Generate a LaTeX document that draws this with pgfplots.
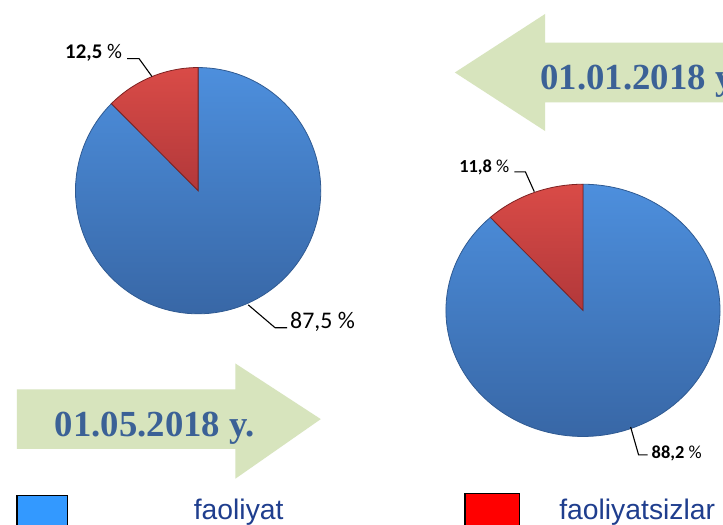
\documentclass[border=0pt]{standalone}
\usepackage{pgfplots}
\usepackage{pgfplotstable}
\pgfplotsset{compat=1.18}
\usepackage{fontspec}
\setmainfont{Liberation Serif}
\newfontfamily\arial{Liberation Sans}
\newfontfamily\calib{Carlito}
\definecolor{arrowgreen}{HTML}{D7E4BD}
\definecolor{datetext}{HTML}{3B6196}
\definecolor{legtext}{HTML}{1F3E8E}
\definecolor{bluetop}{HTML}{4D8FDD}
\definecolor{bluebot}{HTML}{3867A6}
\definecolor{blueedge}{HTML}{2F5A92}
\definecolor{redtop}{HTML}{D94B47}
\definecolor{redbot}{HTML}{B2383A}
\definecolor{rededge}{HTML}{7E2222}
\definecolor{legblue}{HTML}{3399FF}
\definecolor{legred}{HTML}{FF0000}

% shares in percent: row 0 = 01.05.2018 (left pie), row 1 = 01.01.2018 (right pie)
\pgfplotstableread{
group faoliyat faoliyatsizlar
1 87.5 12.5
2 88.2 11.8
}\piedata

\begin{document}
\pgfplotstablegetelem{0}{faoliyatsizlar}\of\piedata \let\redA\pgfplotsretval
\pgfplotstablegetelem{0}{faoliyat}\of\piedata \let\blueA\pgfplotsretval
\pgfplotstablegetelem{1}{faoliyatsizlar}\of\piedata \let\redB\pgfplotsretval
\pgfplotstablegetelem{1}{faoliyat}\of\piedata \let\blueB\pgfplotsretval
\pgfmathsetmacro{\endA}{90+3.6*\redA}
\pgfmathsetmacro{\endB}{90+3.6*\redB}
\begin{tikzpicture}
\useasboundingbox (0,0) rectangle (723pt,528pt);
\clip (0,0) rectangle (723pt,528pt);
\fill[white] (0,0) rectangle (723pt,528pt);
\begin{axis}[
  at={(0,0)}, anchor=south west,
  scale only axis, width=723pt, height=528pt,
  xmin=0, xmax=723, ymin=0, ymax=528, y dir=reverse,
  hide axis, clip=false,
]
% arrows
\fill[arrowgreen] (axis cs:453,73) -- (axis cs:544,14) -- (axis cs:544,43) -- (axis cs:730,43)
   -- (axis cs:730,103) -- (axis cs:544,103) -- (axis cs:544,132) -- cycle;
\fill[arrowgreen] (axis cs:318,422) -- (axis cs:232,366) -- (axis cs:232,392) -- (axis cs:12,392)
   -- (axis cs:12,452) -- (axis cs:232,452) -- (axis cs:232,482) -- cycle;
\node[anchor=base west, text=datetext, font=\fontsize{37}{40}\selectfont\bfseries, inner sep=0pt]
  at (axis cs:539,90) {01.01.2018 y.};
\node[anchor=base west, text=datetext, font=\fontsize{37}{40}\selectfont\bfseries, inner sep=0pt]
  at (axis cs:50,440) {01.05.2018 y.};

% left pie (01.05.2018)
\addplot[draw=blueedge, line width=0.8pt, top color=bluetop, bottom color=bluebot,
  domain=\endA:450, samples=120, variable=\t]
  ({194.5+123.5*cos(\t)},{192-124*sin(\t)}) -- (axis cs:194.5,192) -- cycle;
\addplot[draw=rededge, line width=0.8pt, top color=redtop, bottom color=redbot,
  domain=90:\endA, samples=40, variable=\t]
  ({194.5+123.5*cos(\t)},{192-124*sin(\t)}) -- (axis cs:194.5,192) -- cycle;

% right pie (01.01.2018)
\addplot[draw=blueedge, line width=0.8pt, top color=bluetop, bottom color=bluebot,
  domain=\endB:450, samples=120, variable=\t]
  ({582+138*cos(\t)},{312.5-127*sin(\t)}) -- (axis cs:582,312.5) -- cycle;
\addplot[draw=rededge, line width=0.8pt, top color=redtop, bottom color=redbot,
  domain=90:\endB, samples=40, variable=\t]
  ({582+138*cos(\t)},{312.5-127*sin(\t)}) -- (axis cs:582,312.5) -- cycle;

% leader lines and labels
\draw[black, line width=1.1pt] (axis cs:123,59) -- (axis cs:135,59) -- (axis cs:148,77);
\node[anchor=base east, font=\calib\fontsize{21}{23}\selectfont, inner sep=0pt] at (axis cs:118,59)
  {\textbf{12,5}~\%};
\draw[black, line width=1.1pt] (axis cs:245,307) -- (axis cs:272,330) -- (axis cs:284,330);
\node[anchor=base west, font=\calib\fontsize{24}{26}\selectfont, inner sep=0pt] at (axis cs:287,331)
  {87,5~\%};
\draw[black, line width=1.1pt] (axis cs:513,173) -- (axis cs:524,173) -- (axis cs:533,193);
\node[anchor=base east, font=\calib\fontsize{18.5}{20}\selectfont, inner sep=0pt] at (axis cs:508,174)
  {\textbf{11,8}~\%};
\draw[black, line width=1.1pt] (axis cs:630,430) -- (axis cs:638,458) -- (axis cs:647,458);
\node[anchor=base west, font=\calib\fontsize{18.5}{20}\selectfont, inner sep=0pt] at (axis cs:651,462)
  {\textbf{88,2}~\%};

% legend
\filldraw[fill=legblue, draw=black, line width=1.5pt] (axis cs:12,499) rectangle (axis cs:63,540);
\node[anchor=base west, text=legtext, font=\arial\fontsize{28.5}{30}\selectfont, inner sep=0pt]
  at (axis cs:190,523) {faoliyat};
\filldraw[fill=legred, draw=black, line width=1.5pt] (axis cs:463,497) rectangle (axis cs:518,540);
\node[anchor=base west, text=legtext, font=\arial\fontsize{28.5}{30}\selectfont, inner sep=0pt]
  at (axis cs:558,523) {faoliyatsizlar};
\end{axis}
\end{tikzpicture}
\end{document}
